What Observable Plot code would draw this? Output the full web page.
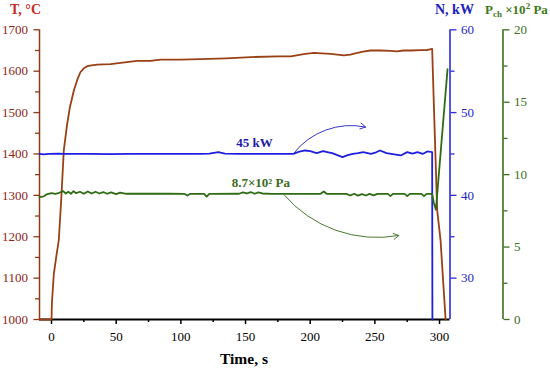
<!DOCTYPE html>
<html><head><meta charset="utf-8">
<script src="https://cdn.jsdelivr.net/npm/d3@7"></script>
<script src="https://cdn.jsdelivr.net/npm/@observablehq/plot@0.6"></script>
<style>
body{margin:0;background:#fff;}
#wrap{position:relative;width:550px;height:371px;font-family:"Liberation Serif","Times New Roman",serif;}
#wrap svg{position:absolute;left:0;top:0;}
.ttl{position:absolute;font-weight:bold;font-size:14px;line-height:14px;white-space:nowrap;font-family:"Liberation Serif","Times New Roman",serif;}
.sb{font-size:9px;position:relative;top:3px;}
.sp{font-size:9px;position:relative;top:-5px;}
</style></head><body>
<div id="wrap"></div>
<script>
// ---- data ----
const timeT = [-9.3, 0, 0.3, 1.8, 3.9, 5.6, 7.5, 9.5, 12, 14.2, 17.3, 20, 22.4, 25, 27.6, 31, 35.3, 45.6, 53.4, 66.3, 76.5, 84.3, 100, 115, 135, 154, 175, 185, 195, 202.8, 209, 215.7, 221, 226, 231, 236.4, 241, 246.7, 254.4, 262, 267, 272.4, 278, 285.3, 290, 294.3, 296.2, 298.2, 300.8, 304.7];
const tempT = [1000, 1000, 1040, 1111, 1157, 1191, 1290, 1409, 1470, 1513, 1554, 1580, 1598, 1607, 1612, 1614, 1616, 1617, 1620, 1625, 1625, 1628, 1628, 1629, 1631, 1634, 1636, 1636, 1641, 1644, 1643, 1642, 1640, 1638, 1640, 1644, 1647, 1650, 1650, 1649, 1648, 1650, 1650, 1651, 1651, 1654, 1460, 1264, 1191, 1000];

const timeN = [-9.3, -6, -2, 5, 10, 20, 30, 45, 60, 80, 100, 115, 122, 129, 134, 145, 160, 175, 187, 191, 196, 200, 205, 210, 214, 217, 221, 225, 229, 233, 237, 241, 247, 251, 254, 259, 265, 270, 275, 279, 283, 287, 290.5, 294.3, 294.5];
const powerN = [45.0, 44.95, 45.0, 45.05, 45.0, 45.0, 45.02, 44.98, 45.02, 45.0, 45.02, 45.0, 45.05, 45.22, 45.05, 45.0, 45.02, 45.0, 45.02, 45.25, 45.42, 45.35, 45.1, 45.34, 45.2, 45.1, 44.85, 44.62, 44.85, 45.02, 45.1, 45.22, 45.02, 45.2, 45.42, 45.1, 44.94, 44.82, 45.22, 45.05, 45.22, 45.0, 45.3, 45.22, 25];

const timeP = [-9.3, -6, -4, 0, 3, 6, 9, 11, 13, 15, 17, 19, 22, 25, 28, 31, 34, 37, 40, 43, 46, 50, 53, 58, 70, 90, 103, 105, 107, 118, 120, 122, 145, 148, 151, 154, 157, 160, 163, 170, 195, 208, 210.5, 213, 228, 231, 234, 237, 240, 243, 246, 249, 252, 260, 262, 264, 273, 275, 277, 286, 288, 290, 294.3, 295.5, 297.2, 306.2];
const pressP = [8.45, 8.5, 8.63, 8.72, 8.68, 8.75, 8.86, 8.7, 8.82, 8.68, 8.86, 8.72, 8.82, 8.68, 8.84, 8.7, 8.82, 8.7, 8.8, 8.68, 8.78, 8.66, 8.76, 8.68, 8.68, 8.68, 8.67, 8.56, 8.67, 8.67, 8.48, 8.67, 8.68, 8.78, 8.7, 8.8, 8.68, 8.78, 8.7, 8.67, 8.67, 8.68, 8.84, 8.67, 8.67, 8.56, 8.68, 8.55, 8.66, 8.56, 8.67, 8.57, 8.67, 8.67, 8.52, 8.67, 8.67, 8.52, 8.67, 8.67, 8.52, 8.67, 8.67, 8.1, 7.58, 17.28];

const xTicks = [0, 50, 100, 150, 200, 250, 300];
const xMinor = [25, 75, 125, 175, 225, 275];
const tTicks = [1000, 1100, 1200, 1300, 1400, 1500, 1600, 1700];
const tMinor = [1050, 1150, 1250, 1350, 1450, 1550, 1650];
const nTicks = [30, 40, 50, 60];
const nMinor = [35, 45, 55];
const pTicks = [0, 5, 10, 15, 20];
const pMinor = [2.5, 7.5, 12.5, 17.5];

const noteN = [{t: 157, v: 45.85, label: "45 kW"}];
const noteP = [{t: 161.8, v: 9.12, label: "8.7×10² Pa"}];
const arrowN = [{t1: 187.2, v1: 45.06, t2: 242.8, v2: 48.25}];
const arrowP = [{t1: 179.6, v1: 8.63, t2: 268.5, v2: 5.8}];

// ---- layout ----
const W = 550, H = 371, X0 = 39, X1 = 449.5, X2 = 502.5, YT = 29.3, YB = 319;
const xDom = [-9.3, 308.1];
const k = (X1 - X0) / (xDom[1] - xDom[0]);
const cT = {line: "#9a4016", axis: "#8b3a1a", text: "#8e2418", title: "#c8281e"};
const cN = {line: "#1f1fe0", axis: "#2b2bd9", text: "#2424c8", title: "#2020c0", note: "#1c1ca8"};
const cP = {line: "#2f6b14", axis: "#3a7020", text: "#3a7020", title: "#3d7a1a", note: "#3b6a1c"};
const baseStyle = {background: "transparent", fontFamily: "'Liberation Serif', 'Times New Roman', serif", fontSize: "13px", overflow: "visible"};
const fmt = d => String(d);

const zip = (a, b) => a.map((t, i) => ({t, v: b[i]}));

const pT = Plot.plot({
  width: W, height: H, marginLeft: X0, marginRight: W - X1, marginTop: YT, marginBottom: H - YB,
  style: baseStyle,
  x: {domain: xDom},
  y: {domain: [1000, 1700]},
  marks: [
    Plot.axisX(xMinor, {tickSize: 3, text: null, label: null, stroke: "#000", strokeWidth: 1.5}),
    Plot.axisX(xTicks, {tickSize: 5, tickPadding: 7, tickFormat: fmt, label: null, stroke: "#000", strokeWidth: 1.5, fill: "#000"}),
    Plot.axisY(tMinor, {tickSize: 4, text: null, label: null, stroke: cT.axis, strokeWidth: 1.3}),
    Plot.axisY(tTicks, {tickSize: 5.5, tickPadding: 6, tickFormat: fmt, label: null, stroke: cT.axis, strokeWidth: 1.3, fill: cT.text}),
    Plot.ruleY([1000], {stroke: "#000", strokeWidth: 2}),
    Plot.ruleX([xDom[0]], {stroke: cT.axis, strokeWidth: 1.5}),
    Plot.line(zip(timeT, tempT), {x: "t", y: "v", stroke: cT.line, strokeWidth: 1.8})
  ]
});

const pN = Plot.plot({
  width: W, height: H, marginLeft: X0, marginRight: W - X1, marginTop: YT, marginBottom: H - YB,
  style: baseStyle,
  x: {domain: xDom, axis: null},
  y: {domain: [25, 60], axis: null},
  marks: [
    Plot.axisY(nMinor, {anchor: "right", tickSize: 4, text: null, label: null, stroke: cN.axis, strokeWidth: 1.3}),
    Plot.axisY(nTicks, {anchor: "right", tickSize: 6, tickPadding: 5, tickFormat: fmt, label: null, stroke: cN.axis, strokeWidth: 1.3, fill: cN.text}),
    Plot.ruleX([xDom[1]], {stroke: cN.axis, strokeWidth: 1.6}),
    Plot.line(zip(timeN, powerN), {x: "t", y: "v", stroke: cN.line, strokeWidth: 1.8}),
    Plot.arrow(arrowN, {x1: "t1", y1: "v1", x2: "t2", y2: "v2", bend: 32, stroke: "#3434c8", strokeWidth: 1, headLength: 9}),
    Plot.text(noteN, {x: "t", y: "v", text: "label", fill: cN.note, fontWeight: "bold", fontSize: 13, lineAnchor: "bottom", textAnchor: "middle"})
  ]
});

const pDomEnd = xDom[0] + (X2 - X0) / k;
const pP = Plot.plot({
  width: W, height: H, marginLeft: X0, marginRight: W - X2, marginTop: YT, marginBottom: H - YB,
  style: baseStyle,
  x: {domain: [xDom[0], pDomEnd], axis: null},
  y: {domain: [0, 20], axis: null},
  marks: [
    Plot.axisY(pMinor, {anchor: "right", tickSize: 4, text: null, label: null, stroke: cP.axis, strokeWidth: 1.3}),
    Plot.axisY(pTicks, {anchor: "right", tickSize: 6, tickPadding: 5, tickFormat: fmt, label: null, stroke: cP.axis, strokeWidth: 1.3, fill: cP.text}),
    Plot.ruleX([pDomEnd], {stroke: cP.axis, strokeWidth: 1.6}),
    Plot.line(zip(timeP, pressP), {x: "t", y: "v", stroke: cP.line, strokeWidth: 1.8}),
    Plot.arrow(arrowP, {x1: "t1", y1: "v1", x2: "t2", y2: "v2", bend: -30, stroke: "#4a7a30", strokeWidth: 1, headLength: 9}),
    Plot.text(noteP, {x: "t", y: "v", text: "label", fill: cP.note, fontWeight: "bold", fontSize: 13, lineAnchor: "bottom", textAnchor: "middle"})
  ]
});

const wrap = document.getElementById("wrap");
wrap.append(pT, pN, pP);

function title(html, left, top, color, size) {
  const d = document.createElement("div");
  d.className = "ttl";
  d.innerHTML = html;
  d.style.left = left + "px";
  d.style.top = top + "px";
  d.style.color = color;
  if (size) { d.style.fontSize = size + "px"; d.style.lineHeight = size + "px"; }
  wrap.append(d);
  return d;
}
title("T, °C", 10, 3, cT.title);
title("N, kW", 435, 3, cN.title);
const pt = title("P<span class='sb'>ch</span> ×10<span class='sp'>2</span> Pa", 485, 3, cP.title, 13);
if (pt.offsetWidth > 63) pt.style.left = (548 - pt.offsetWidth) + "px";
const tx = title("Time, s", 0, 351, "#000", 15.5);
tx.style.left = (244 - tx.offsetWidth / 2) + "px";
</script>
</body></html>
